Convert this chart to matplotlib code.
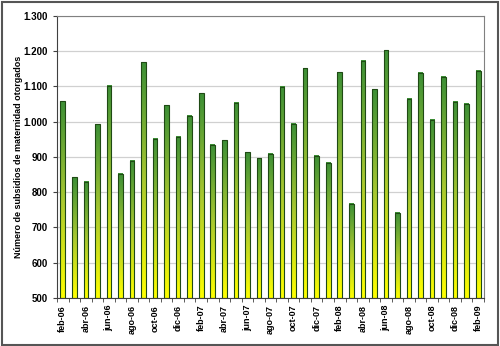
import matplotlib.pyplot as plt
import numpy as np
from matplotlib.colors import LinearSegmentedColormap
from matplotlib.ticker import FuncFormatter

# Monthly maternity subsidies, feb-06 .. feb-09
months = ['feb-06', 'mar-06', 'abr-06', 'may-06', 'jun-06', 'jul-06', 'ago-06', 'sep-06',
          'oct-06', 'nov-06', 'dic-06', 'ene-07', 'feb-07', 'mar-07', 'abr-07', 'may-07',
          'jun-07', 'jul-07', 'ago-07', 'sep-07', 'oct-07', 'nov-07', 'dic-07', 'ene-08',
          'feb-08', 'mar-08', 'abr-08', 'may-08', 'jun-08', 'jul-08', 'ago-08', 'sep-08',
          'oct-08', 'nov-08', 'dic-08', 'ene-09', 'feb-09']
subsidios = [1058, 843, 830, 993, 1102, 852, 889, 1168,
             952, 1047, 957, 1017, 1080, 935, 948, 1054,
             913, 896, 909, 1099, 994, 1151, 904, 883,
             1141, 767, 1173, 1092, 1203, 742, 1065, 1139,
             1005, 1127, 1057, 1051, 1144]

plt.rcParams['font.family'] = ['Liberation Sans', 'DejaVu Sans']

fig = plt.figure(figsize=(5.0, 3.46), dpi=100)
ax = fig.add_axes([0.114, 0.139, 0.854, 0.815])

ymin, ymax = 500, 1300
cmap = LinearSegmentedColormap.from_list('yg', ['#ffff00', '#a8c830', '#3c8f36'])
grad = np.linspace(0, 1, 256).reshape(-1, 1)

x = np.arange(len(months))
width = 0.4

# soft shadow on the right of each bar
ax.bar(x + 0.08, np.array(subsidios) - ymin, width, bottom=ymin, color='#c8c8c8',
       linewidth=0, zorder=1)
for xi, v in zip(x, subsidios):
    ax.imshow(grad, extent=[xi - width / 2, xi + width / 2, ymin, v], origin='lower',
              aspect='auto', cmap=cmap, zorder=2)
ax.bar(x, np.array(subsidios) - ymin, width, bottom=ymin, fill=False,
       edgecolor='#1f4a14', linewidth=0.8, zorder=3)

ax.set_xlim(-0.5, len(months) - 0.5)
ax.set_ylim(ymin, ymax)
ax.set_yticks(np.arange(500, 1301, 100))
ax.yaxis.set_major_formatter(FuncFormatter(lambda v, p: f'{int(v):,}'.replace(',', '.')))
ax.grid(axis='y', color='#d0d0d0', linewidth=0.9, zorder=0)
ax.set_axisbelow(True)

ax.set_xticks(x[::2])
ax.set_xticklabels(months[::2], rotation=90, fontsize=6.5, fontweight='bold')
ax.set_xticks(np.arange(-0.5, len(months), 1), minor=True)
ax.tick_params(axis='x', which='major', length=0, pad=5)
ax.tick_params(axis='x', which='minor', length=3, color='#404040')
ax.tick_params(axis='y', labelsize=7, length=3, color='#404040')
for lab in ax.get_yticklabels():
    lab.set_fontweight('bold')

for side in ['top', 'right']:
    ax.spines[side].set_color('#808080')
for side in ['left', 'bottom']:
    ax.spines[side].set_color('#404040')

ax.set_ylabel('Número de subsidios de maternidad otorgados', fontsize=6.5,
              fontweight='bold')
ax.yaxis.set_label_coords(-0.08, 0.5)

# outer frame
fig.patches.append(plt.Rectangle((0.003, 0.004), 0.992, 0.99, transform=fig.transFigure,
                                 fill=False, edgecolor='#555555', linewidth=1.5))

fig.savefig('out.png', dpi=100)
